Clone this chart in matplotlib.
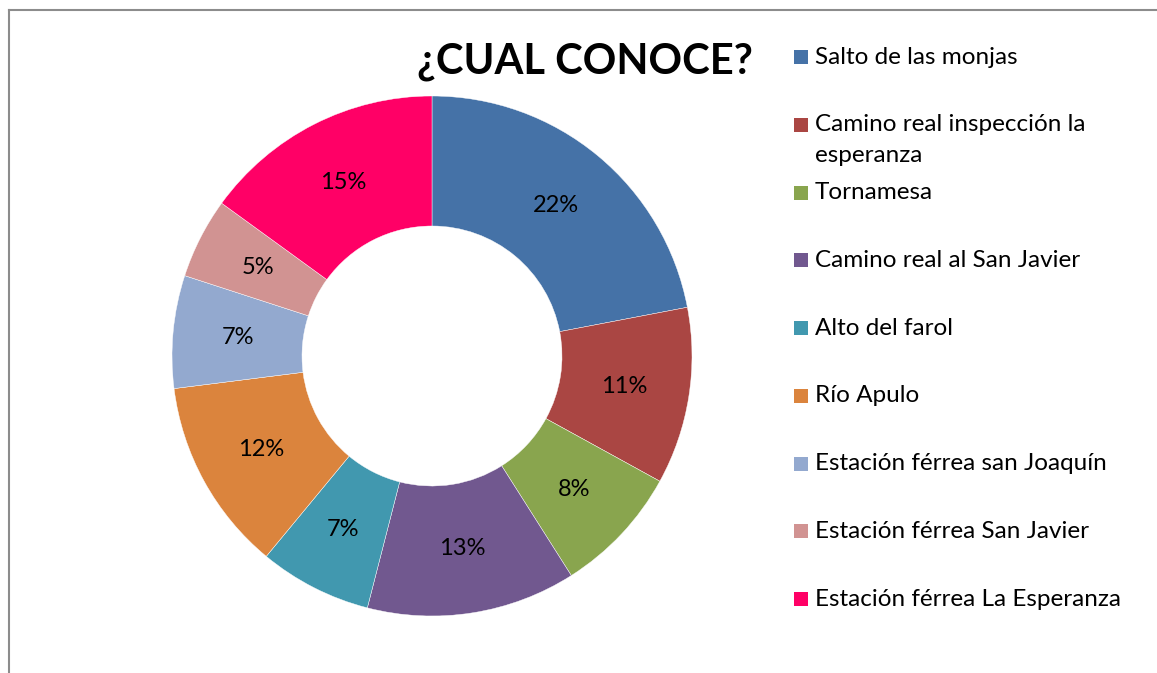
import matplotlib
matplotlib.use("Agg")
import matplotlib.pyplot as plt
from matplotlib.patches import Rectangle
from matplotlib.lines import Line2D

# data
labels = [
    "Salto de las monjas",
    "Camino real inspección la\nesperanza",
    "Tornamesa",
    "Camino real al San Javier",
    "Alto del farol",
    "Río Apulo",
    "Estación férrea san Joaquín",
    "Estación férrea San Javier",
    "Estación férrea La Esperanza",
]
values = [22, 11, 8, 13, 7, 12, 7, 5, 15]
colors = ["#4572A7", "#AA4643", "#89A54E", "#71588F", "#4198AF",
          "#DB843D", "#93A9CF", "#D19392", "#FF0066"]
title = "¿CUAL CONOCE?"

W, H = 1157, 673
FONT = "Lato"
fig = plt.figure(figsize=(W / 100, H / 100), dpi=100)

# donut: center (432, 356) px, radius 260 px
cx, cy, r = 432, 356, 260
ax = fig.add_axes([(cx - r) / W, (H - cy - r) / H, 2 * r / W, 2 * r / H])
wedges, _, autotexts = ax.pie(
    values, colors=colors, startangle=90, counterclock=False, radius=1,
    autopct="%1.0f%%", pctdistance=0.75,
    wedgeprops=dict(width=0.5, edgecolor="white", linewidth=0.3),
    textprops=dict(fontsize=17, family=FONT, color="black"),
)
ax.set_xlim(-1, 1)
ax.set_ylim(-1, 1)
ax.set_aspect("equal")
ax.axis("off")

fig.text(585 / W, 1 - 62 / H, title, ha="center", va="center",
         fontsize=30, fontweight="bold", family=FONT)

# legend, drawn by hand to copy the spacing
y0, step = 57, 67.75
for i, (lab, col) in enumerate(zip(labels, colors)):
    y = y0 + step * i
    fig.add_artist(Rectangle((794 / W, 1 - (y + 7) / H), 14 / W, 14 / H,
                             transform=fig.transFigure, facecolor=col,
                             edgecolor="none"))
    for j, line in enumerate(lab.split("\n")):
        fig.text(815 / W, 1 - (y + 31 * j) / H, line, ha="left",
                 va="center", fontsize=17.5, family=FONT)

# chart frame (left and top edges visible)
frame = "#8c8c8c"
fig.add_artist(Line2D([9 / W, 9 / W], [0, 1 - 10 / H], color=frame,
                      linewidth=1.5, transform=fig.transFigure))
fig.add_artist(Line2D([9 / W, 1], [1 - 10 / H, 1 - 10 / H], color=frame,
                      linewidth=1.5, transform=fig.transFigure))

fig.savefig("out.png", dpi=100, facecolor="white")
